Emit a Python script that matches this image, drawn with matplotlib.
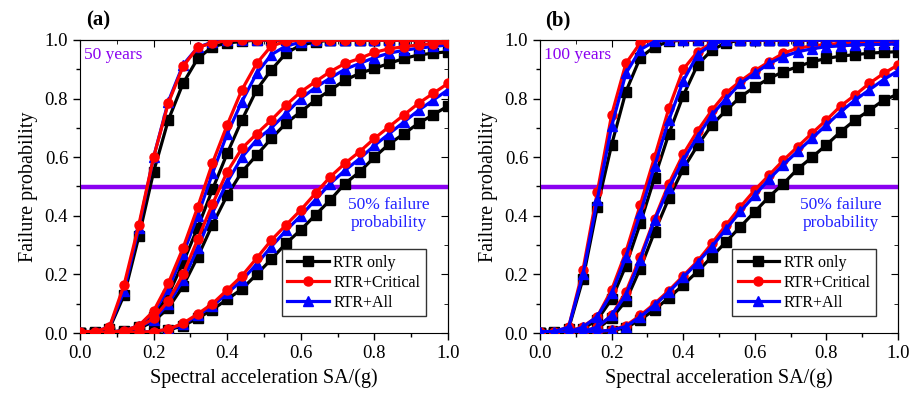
import matplotlib
matplotlib.use('Agg')
import matplotlib.pyplot as plt
from matplotlib.ticker import MultipleLocator

plt.rcParams['font.family'] = ['Liberation Serif', 'DejaVu Serif']

# spectral acceleration grid (g)
sa = [0.00, 0.04, 0.08, 0.12, 0.16, 0.20, 0.24, 0.28, 0.32, 0.36, 0.40, 0.44, 0.48,
      0.52, 0.56, 0.60, 0.64, 0.68, 0.72, 0.76, 0.80, 0.84, 0.88, 0.92, 0.96, 1.00]

series_names = ['RTR only', 'RTR+Critical', 'RTR+All']
panel_tags = ['(a)', '(b)']
panel_years = ['50 years', '100 years']

# ---- (a) 50 years ----
a1_only = [0.0, 0.005, 0.015, 0.13, 0.33, 0.55, 0.727, 0.852, 0.937, 0.977, 0.99, 0.995, 1.0,
           1.0, 1.0, 1.0, 1.0, 1.0, 1.0, 1.0, 1.0, 1.0, 1.0, 1.0, 1.0, 1.0]
a1_crit = [0.005, 0.005, 0.02, 0.165, 0.37, 0.60, 0.785, 0.91, 0.975, 0.99, 0.998, 1.0, 1.0,
           1.0, 1.0, 1.0, 1.0, 1.0, 1.0, 1.0, 1.0, 1.0, 1.0, 1.0, 1.0, 1.0]
a1_all = [0.005, 0.005, 0.02, 0.145, 0.36, 0.60, 0.79, 0.915, 0.975, 0.993, 1.0, 1.0, 1.0,
          1.0, 1.0, 1.0, 1.0, 1.0, 1.0, 1.0, 1.0, 1.0, 1.0, 1.0, 1.0, 1.0]

a2_only = [0.0, 0.0, 0.003, 0.008, 0.02, 0.055, 0.13, 0.24, 0.36, 0.49, 0.613, 0.727, 0.83,
           0.898, 0.955, 0.983, 0.993, 1.0, 1.0, 1.0, 1.0, 1.0, 1.0, 1.0, 1.0, 1.0]
a2_crit = [0.0, 0.0, 0.003, 0.008, 0.025, 0.075, 0.17, 0.29, 0.43, 0.58, 0.71, 0.83, 0.92,
           0.98, 0.995, 1.0, 1.0, 1.0, 1.0, 1.0, 1.0, 1.0, 1.0, 1.0, 1.0, 1.0]
a2_all = [0.0, 0.0, 0.003, 0.008, 0.025, 0.07, 0.15, 0.27, 0.40, 0.545, 0.68, 0.79, 0.886,
          0.95, 0.98, 0.992, 1.0, 1.0, 1.0, 1.0, 1.0, 1.0, 1.0, 1.0, 1.0, 1.0]

a3_only = [0.0, 0.0, 0.002, 0.005, 0.015, 0.04, 0.085, 0.16, 0.26, 0.37, 0.47, 0.55, 0.607,
           0.664, 0.716, 0.755, 0.795, 0.829, 0.863, 0.886, 0.903, 0.92, 0.937, 0.949, 0.955, 0.96]
a3_crit = [0.0, 0.0, 0.002, 0.005, 0.02, 0.05, 0.11, 0.20, 0.32, 0.44, 0.55, 0.63, 0.68,
           0.727, 0.778, 0.823, 0.858, 0.892, 0.92, 0.937, 0.958, 0.97, 0.977, 0.983, 0.988, 0.99]
a3_all = [0.0, 0.0, 0.002, 0.005, 0.02, 0.045, 0.10, 0.18, 0.29, 0.41, 0.515, 0.60, 0.659,
          0.70, 0.75, 0.80, 0.838, 0.87, 0.90, 0.92, 0.94, 0.955, 0.965, 0.972, 0.978, 0.983]

a4_only = [0.0, 0.0, 0.0, 0.0, 0.001, 0.003, 0.01, 0.025, 0.05, 0.08, 0.115, 0.15, 0.20,
           0.252, 0.306, 0.352, 0.403, 0.454, 0.51, 0.55, 0.60, 0.645, 0.68, 0.716, 0.745, 0.775]
a4_crit = [0.0, 0.0, 0.0, 0.001, 0.003, 0.005, 0.013, 0.033, 0.065, 0.10, 0.147, 0.195, 0.255,
           0.317, 0.369, 0.42, 0.477, 0.533, 0.579, 0.619, 0.664, 0.704, 0.744, 0.784, 0.818, 0.852]
a4_all = [0.0, 0.0, 0.0, 0.001, 0.003, 0.005, 0.012, 0.03, 0.06, 0.092, 0.135, 0.18, 0.235,
          0.295, 0.35, 0.40, 0.455, 0.51, 0.555, 0.595, 0.64, 0.68, 0.72, 0.76, 0.795, 0.83]

# ---- (b) 100 years ----
b1_only = [0.0, 0.005, 0.015, 0.185, 0.43, 0.642, 0.824, 0.94, 0.977, 0.995, 1.0, 1.0, 1.0,
           1.0, 1.0, 1.0, 1.0, 1.0, 1.0, 1.0, 1.0, 1.0, 1.0, 1.0, 1.0, 1.0]
b1_crit = [0.005, 0.005, 0.02, 0.215, 0.48, 0.744, 0.92, 0.99, 1.0, 1.0, 1.0, 1.0, 1.0,
           1.0, 1.0, 1.0, 1.0, 1.0, 1.0, 1.0, 1.0, 1.0, 1.0, 1.0, 1.0, 1.0]
b1_all = [0.005, 0.005, 0.02, 0.20, 0.455, 0.705, 0.886, 0.967, 0.995, 1.0, 1.0, 1.0, 1.0,
          1.0, 1.0, 1.0, 1.0, 1.0, 1.0, 1.0, 1.0, 1.0, 1.0, 1.0, 1.0, 1.0]

b2_only = [0.0, 0.0, 0.003, 0.015, 0.045, 0.115, 0.23, 0.374, 0.53, 0.68, 0.81, 0.915, 0.966,
           0.99, 1.0, 1.0, 1.0, 1.0, 1.0, 1.0, 1.0, 1.0, 1.0, 1.0, 1.0, 1.0]
b2_crit = [0.0, 0.0, 0.004, 0.022, 0.056, 0.147, 0.277, 0.437, 0.60, 0.767, 0.90, 0.96, 0.99,
           1.0, 1.0, 1.0, 1.0, 1.0, 1.0, 1.0, 1.0, 1.0, 1.0, 1.0, 1.0, 1.0]
b2_all = [0.0, 0.0, 0.004, 0.02, 0.056, 0.135, 0.26, 0.408, 0.57, 0.727, 0.86, 0.95, 0.985,
          1.0, 1.0, 1.0, 1.0, 1.0, 1.0, 1.0, 1.0, 1.0, 1.0, 1.0, 1.0, 1.0]

b3_only = [0.0, 0.0, 0.002, 0.005, 0.015, 0.05, 0.11, 0.22, 0.345, 0.46, 0.56, 0.64, 0.71,
           0.76, 0.806, 0.84, 0.869, 0.892, 0.909, 0.926, 0.937, 0.945, 0.95, 0.955, 0.958, 0.96]
b3_crit = [0.0, 0.0, 0.002, 0.005, 0.02, 0.06, 0.14, 0.26, 0.39, 0.51, 0.61, 0.69, 0.76,
           0.82, 0.86, 0.895, 0.926, 0.955, 0.972, 0.98, 0.985, 0.988, 0.99, 0.99, 0.99, 0.99]
b3_all = [0.0, 0.0, 0.002, 0.005, 0.02, 0.06, 0.13, 0.25, 0.385, 0.495, 0.59, 0.67, 0.744,
          0.80, 0.852, 0.886, 0.92, 0.943, 0.96, 0.97, 0.977, 0.98, 0.983, 0.985, 0.985, 0.987]

b4_only = [0.0, 0.0, 0.0, 0.0, 0.002, 0.008, 0.018, 0.045, 0.08, 0.12, 0.164, 0.21, 0.26,
           0.312, 0.363, 0.414, 0.465, 0.51, 0.56, 0.60, 0.642, 0.687, 0.727, 0.76, 0.795, 0.815]
b4_crit = [0.0, 0.0, 0.0, 0.002, 0.005, 0.01, 0.025, 0.06, 0.10, 0.145, 0.195, 0.245, 0.306,
           0.369, 0.431, 0.488, 0.539, 0.59, 0.636, 0.682, 0.727, 0.775, 0.812, 0.852, 0.886, 0.915]
b4_all = [0.0, 0.0, 0.0, 0.002, 0.005, 0.01, 0.022, 0.055, 0.095, 0.14, 0.19, 0.24, 0.295,
          0.355, 0.415, 0.47, 0.525, 0.575, 0.62, 0.665, 0.71, 0.755, 0.795, 0.83, 0.865, 0.895]

panel_a = [(a1_only, a1_crit, a1_all), (a2_only, a2_crit, a2_all),
           (a3_only, a3_crit, a3_all), (a4_only, a4_crit, a4_all)]
panel_b = [(b1_only, b1_crit, b1_all), (b2_only, b2_crit, b2_all),
           (b3_only, b3_crit, b3_all), (b4_only, b4_crit, b4_all)]

PURPLE = '#8A00F0'
TEXT_BLUE = '#2222FF'


def draw_panel(ax, groups, tag, years, red_on_top):
    """Draw one fragility panel with its reference line, notes and legend"""
    # 50% reference line
    ax.axhline(0.5, color=PURPLE, lw=3.2, zorder=1)

    styles = [('black', 's'), ('#FF0000', 'o'), ('#0000FF', '^')]
    # draw order of the three series
    order = [0, 2, 1] if red_on_top else [0, 1, 2]
    handles = [None, None, None]
    for group in groups:
        for k in order:
            color, marker = styles[k]
            line, = ax.plot(sa, group[k], color=color, marker=marker, lw=2.3,
                            ms=6.5, mec=color, mfc=color,
                            zorder=3 + order.index(k))
            handles[k] = line

    ax.set_xlim(0, 1)
    ax.set_ylim(0, 1)
    ax.xaxis.set_major_locator(MultipleLocator(0.2))
    ax.xaxis.set_minor_locator(MultipleLocator(0.1))
    ax.yaxis.set_major_locator(MultipleLocator(0.2))
    ax.yaxis.set_minor_locator(MultipleLocator(0.1))
    ax.xaxis.set_major_formatter('{x:.1f}')
    ax.yaxis.set_major_formatter('{x:.1f}')
    ax.tick_params(which='both', direction='out', labelsize=13.5, width=1)
    ax.tick_params(which='major', length=5)
    ax.tick_params(which='minor', length=3)

    # mirrored inward ticks on top and right
    top = ax.secondary_xaxis('top')
    right = ax.secondary_yaxis('right')
    for sec, axis in ((top, top.xaxis), (right, right.yaxis)):
        axis.set_major_locator(MultipleLocator(0.2))
        axis.set_minor_locator(MultipleLocator(0.1))
        sec.tick_params(which='both', direction='in', labelleft=False,
                        labelright=False, labeltop=False, labelbottom=False)
        sec.tick_params(which='major', length=5)
        sec.tick_params(which='minor', length=3)

    ax.set_xlabel('Spectral acceleration SA/(g)', fontsize=14.5, labelpad=5)
    ax.set_ylabel('Failure probability', fontsize=14.5, labelpad=5)

    ax.text(0.012, 0.95, years, color=PURPLE, fontsize=12.5,
            transform=ax.transAxes, va='center', ha='left')
    ax.text(0.84, 0.405, '50% failure\nprobability', color=TEXT_BLUE,
            fontsize=12.5, transform=ax.transAxes, va='center', ha='center',
            linespacing=1.15)
    ax.text(0.05, 1.068, tag, fontsize=15, fontweight='bold',
            transform=ax.transAxes, va='center', ha='center')

    leg = ax.legend(handles, series_names, loc='lower right',
                    bbox_to_anchor=(0.962, 0.03),
                    fontsize=11.5, frameon=True, fancybox=False,
                    edgecolor='black', handlelength=2.6, borderpad=0.35,
                    labelspacing=0.25, handletextpad=0.3)
    leg.get_frame().set_linewidth(1.0)
    leg.set_zorder(10)


fig = plt.figure(figsize=(9.17, 4.05), dpi=100)
ax_a = fig.add_axes([80 / 917, 1 - 333 / 405, 368 / 917, 293 / 405])
ax_b = fig.add_axes([540 / 917, 1 - 333 / 405, 358 / 917, 293 / 405])

draw_panel(ax_a, panel_a, panel_tags[0], panel_years[0], red_on_top=True)
draw_panel(ax_b, panel_b, panel_tags[1], panel_years[1], red_on_top=False)

fig.savefig('out.png', dpi=100)
